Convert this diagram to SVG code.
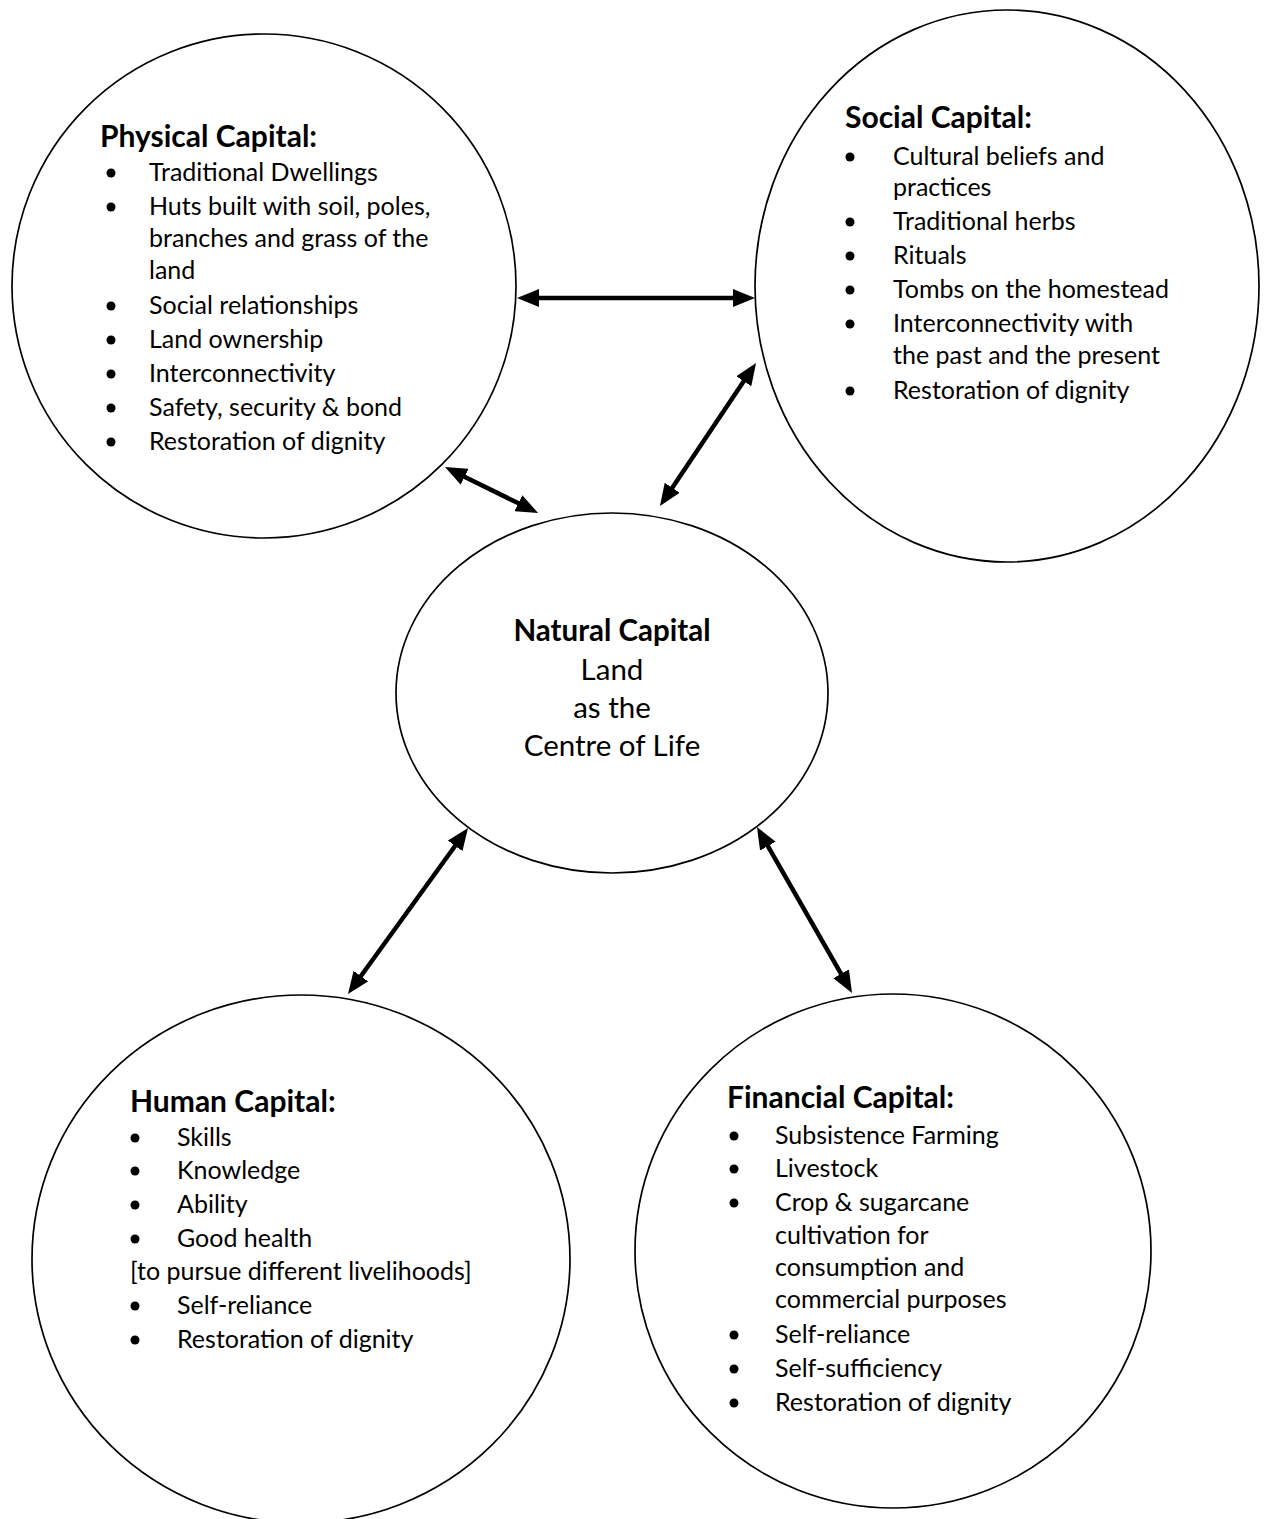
<svg xmlns="http://www.w3.org/2000/svg" width="1269" height="1519" viewBox="0 0 1269 1519">
  <style>
    .node { fill: #ffffff; stroke: #000000; stroke-width: 1.7; }
    .t { font-family: Lato, "Open Sans", sans-serif; font-size: 25px; fill: #000000; }
    .h { font-family: Lato, "Open Sans", sans-serif; font-size: 30px; font-weight: bold; fill: #000000; }
    .n { font-family: Lato, "Open Sans", sans-serif; font-size: 29.5px; fill: #000000; text-anchor: middle; }
    .nb { font-weight: bold; }
    .b { fill: #000000; }
    .c { stroke: #000000; stroke-width: 4.5; fill: none; marker-start: url(#ah); marker-end: url(#ah); }
  </style>
  <defs>
    <marker id="ah" markerUnits="userSpaceOnUse" viewBox="0 0 22 18" markerWidth="22" markerHeight="18" refX="2" refY="9" orient="auto-start-reverse">
      <path d="M0,0 L22,9 L0,18 Z" fill="#000000"/>
    </marker>
  </defs>
  <rect width="1269" height="1519" fill="#ffffff"/>

  <g id="physical">
    <ellipse class="node" cx="264" cy="286" rx="252" ry="252"/>
    <text class="h" x="100" y="147">Physical Capital:</text>
    <circle class="b" cx="111" cy="173" r="4.5"/>
    <text class="t" x="149" y="181">Traditional Dwellings</text>
    <circle class="b" cx="111" cy="207" r="4.5"/>
    <text class="t" x="149" y="215">Huts built with soil, poles,</text>
    <text class="t" x="149" y="247">branches and grass of the</text>
    <text class="t" x="149" y="279">land</text>
    <circle class="b" cx="111" cy="306" r="4.5"/>
    <text class="t" x="149" y="314">Social relationships</text>
    <circle class="b" cx="111" cy="340" r="4.5"/>
    <text class="t" x="149" y="348">Land ownership</text>
    <circle class="b" cx="111" cy="374" r="4.5"/>
    <text class="t" x="149" y="382">Interconnectivity</text>
    <circle class="b" cx="111" cy="408" r="4.5"/>
    <text class="t" x="149" y="416">Safety, security &amp; bond</text>
    <circle class="b" cx="111" cy="442" r="4.5"/>
    <text class="t" x="149" y="450">Restoration of dignity</text>
  </g>

  <g id="social">
    <ellipse class="node" cx="1007" cy="286" rx="252" ry="276"/>
    <text class="h" x="845" y="128">Social Capital:</text>
    <circle class="b" cx="850" cy="157" r="4.5"/>
    <text class="t" x="893" y="165">Cultural beliefs and</text>
    <text class="t" x="893" y="196">practices</text>
    <circle class="b" cx="850" cy="222" r="4.5"/>
    <text class="t" x="893" y="230">Traditional herbs</text>
    <circle class="b" cx="850" cy="256" r="4.5"/>
    <text class="t" x="893" y="264">Rituals</text>
    <circle class="b" cx="850" cy="290" r="4.5"/>
    <text class="t" x="893" y="298">Tombs on the homestead</text>
    <circle class="b" cx="850" cy="324" r="4.5"/>
    <text class="t" x="893" y="332">Interconnectivity with</text>
    <text class="t" x="893" y="364">the past and the present</text>
    <circle class="b" cx="850" cy="391" r="4.5"/>
    <text class="t" x="893" y="399">Restoration of dignity</text>
  </g>

  <g id="natural">
    <ellipse class="node" cx="612" cy="693" rx="216" ry="180"/>
    <text class="n nb" x="612" y="641">Natural Capital</text>
    <text class="n" x="612" y="680">Land</text>
    <text class="n" x="612" y="718">as the</text>
    <text class="n" x="612" y="756">Centre of Life</text>
  </g>

  <g id="human">
    <ellipse class="node" cx="301" cy="1259" rx="269" ry="264"/>
    <text class="h" x="130" y="1112">Human Capital:</text>
    <circle class="b" cx="135" cy="1138" r="4.5"/>
    <text class="t" x="177" y="1146">Skills</text>
    <circle class="b" cx="135" cy="1171" r="4.5"/>
    <text class="t" x="177" y="1179">Knowledge</text>
    <circle class="b" cx="135" cy="1205" r="4.5"/>
    <text class="t" x="177" y="1213">Ability</text>
    <circle class="b" cx="135" cy="1239" r="4.5"/>
    <text class="t" x="177" y="1247">Good health</text>
    <text class="t" x="130" y="1280">[to pursue different livelihoods]</text>
    <circle class="b" cx="135" cy="1306" r="4.5"/>
    <text class="t" x="177" y="1314">Self-reliance</text>
    <circle class="b" cx="135" cy="1340" r="4.5"/>
    <text class="t" x="177" y="1348">Restoration of dignity</text>
  </g>

  <g id="financial">
    <ellipse class="node" cx="893" cy="1251" rx="258" ry="257"/>
    <text class="h" x="727" y="1108">Financial Capital:</text>
    <circle class="b" cx="734" cy="1136" r="4.5"/>
    <text class="t" x="775" y="1144">Subsistence Farming</text>
    <circle class="b" cx="734" cy="1169" r="4.5"/>
    <text class="t" x="775" y="1177">Livestock</text>
    <circle class="b" cx="734" cy="1203" r="4.5"/>
    <text class="t" x="775" y="1211">Crop &amp; sugarcane</text>
    <text class="t" x="775" y="1244">cultivation for</text>
    <text class="t" x="775" y="1276">consumption and</text>
    <text class="t" x="775" y="1308">commercial purposes</text>
    <circle class="b" cx="734" cy="1335" r="4.5"/>
    <text class="t" x="775" y="1343">Self-reliance</text>
    <circle class="b" cx="734" cy="1369" r="4.5"/>
    <text class="t" x="775" y="1377">Self-sufficiency</text>
    <circle class="b" cx="734" cy="1403" r="4.5"/>
    <text class="t" x="775" y="1411">Restoration of dignity</text>
  </g>

  <g id="connectors">
    <line class="c" x1="537" y1="298" x2="735" y2="298"/>
    <line class="c" x1="462.9" y1="475.9" x2="520.1" y2="504.1"/>
    <line class="c" x1="671.1" y1="489.4" x2="744.9" y2="379.6"/>
    <line class="c" x1="456.3" y1="844.2" x2="359.7" y2="977.8"/>
    <line class="c" x1="766.9" y1="844.4" x2="842.1" y2="975.6"/>
  </g>
</svg>
